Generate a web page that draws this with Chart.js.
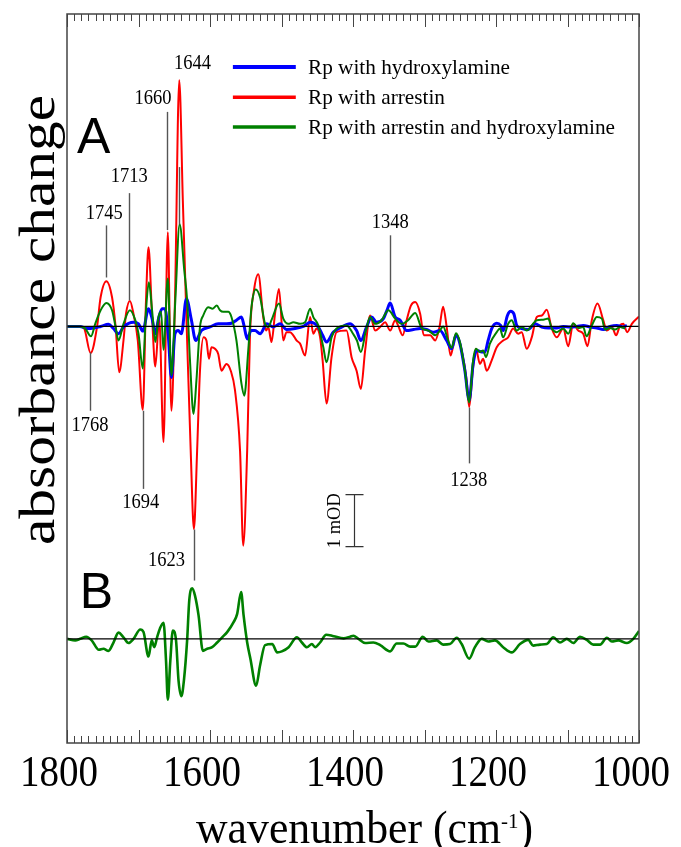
<!DOCTYPE html>
<html>
<head>
<meta charset="utf-8">
<script src="https://cdn.jsdelivr.net/npm/chart.js@4.4.1/dist/chart.umd.min.js"></script>
<style>
  html, body { margin: 0; padding: 0; background: #fff; }
  canvas { display: block; }
</style>
</head>
<body>
<canvas id="myChart" width="681" height="847"></canvas>
<script>
"use strict";

// wavenumber (cm-1), absorbance change (mOD)
let rpHydroxylamine = [
  [1800,0],[1782,0],[1772,-0.04],[1762.5,-0.03],[1753,0],[1742,0.04],[1735,-0.04],[1728,-0.14],[1721,-0.01],
  [1707,0.08],[1700,0.05],[1694,-0.09],[1686,0.34],[1681,0.15],[1676.5,-0.14],[1672,0.15],[1667,0.34],[1663,0.34],
  [1658.5,-0.14],[1654,-0.98],[1649,-0.14],[1644.5,-0.08],[1640,-0.14],[1633,0.53],[1626,0.12],[1620,-0.27],
  [1612,-0.08],[1600,-0.01],[1588.5,0.05],[1577,0.05],[1570,0.06],[1563,0.12],[1556,0.18],[1552.5,0.02],[1548,-0.24],
  [1542.5,-0.08],[1537,-0.08],[1530,-0.14],[1520.5,0.05],[1511.5,-0.01],[1502,0.05],[1493,-0.06],[1481,-0.04],
  [1469.5,0],[1460,0.08],[1448.5,-0.01],[1442.5,-0.17],[1437,-0.30],[1427.5,-0.11],[1418,-0.03],[1404,0.05],
  [1395,-0.08],[1389,-0.27],[1381,-0.01],[1374,0.18],[1367,0.08],[1357.5,0.15],[1352.5,0.31],[1348,0.45],[1341,0.18],
  [1334,0.12],[1325,-0.08],[1315.5,-0.06],[1306,-0.04],[1297,-0.06],[1287.5,-0.11],[1278.5,-0.08],[1269,-0.27],
  [1262,-0.43],[1256,-0.17],[1250.5,-0.33],[1243.5,-0.85],[1237.5,-1.42],[1232,-0.72],[1227,-0.46],[1220,-0.49],
  [1215.5,-0.49],[1211,-0.27],[1206,-0.04],[1199,0.06],[1193.5,0.02],[1190,-0.08],[1184,0.21],[1179.5,0.29],
  [1175,0.24],[1171,0.02],[1164,-0.04],[1155,-0.06],[1145.5,0.05],[1136,-0.01],[1127,-0.03],[1115,-0.03],[1106,0],
  [1096.5,-0.01],[1087,0],[1078,0.02],[1068.5,-0.01],[1059,-0.03],[1050,-0.06],[1040.5,0],[1031,0.02],[1022,-0.01],
  [1017,0.02]
];

let rpArrestin = [
  [1800,0],[1782,0],[1776,-0.04],[1767,-0.51],[1758,-0.01],[1753,0.56],[1745,0.87],[1737,0.56],[1732,-0.01],
  [1727,-0.88],[1721,-0.27],[1717.5,0.24],[1712,0.49],[1707,0.24],[1701,-0.27],[1694,-1.60],[1689.5,0.5],[1686,1.52],
  [1681,0.18],[1676.5,-0.77],[1671,0.15],[1665,-2.22],[1659,1.81],[1654,-1.62],[1649,0.5],[1643,4.73],[1638,2.42],
  [1632,-0.27],[1627,-2.38],[1622.5,-3.89],[1618,-2.38],[1614,-0.85],[1609,-0.21],[1605,-0.27],[1601.5,-0.62],
  [1598,-0.40],[1593,-0.43],[1588.5,-0.53],[1584,-0.85],[1577,-0.72],[1571,-0.85],[1565,-1.23],[1558,-2.38],
  [1553.5,-4.21],[1548,-2.38],[1544,-0.13],[1538.5,0.69],[1532.5,1.0],[1525.5,0.18],[1521.5,-0.08],[1518.5,-0.01],
  [1514,-0.30],[1509,0.25],[1503.5,0.72],[1497.5,-0.27],[1493,-0.11],[1488,-0.11],[1483.5,-0.17],[1479,-0.27],
  [1474,-0.33],[1467,-0.56],[1460,0.18],[1455.5,-0.14],[1451,-0.04],[1446,-0.21],[1442.5,-0.65],[1437,-1.48],
  [1430,-0.59],[1423,-0.11],[1409,-0.08],[1402,-0.59],[1395,-0.85],[1389,-1.20],[1383,-0.46],[1376,0.21],[1369,-0.08],
  [1362,-0.01],[1355,0.08],[1348,-0.08],[1341,0.12],[1337,0.02],[1330.5,-0.17],[1325,0.12],[1319,0.40],[1313,0.47],
  [1306,0.24],[1301,-0.17],[1292,-0.17],[1285,-0.27],[1279,-0.01],[1274,0.38],[1269,-0.01],[1263.5,-0.56],
  [1257.5,-0.21],[1255,-0.17],[1248,-0.46],[1241,-1.04],[1237.5,-1.55],[1232.5,-0.85],[1228,-0.43],[1222.5,-0.72],
  [1218,-0.62],[1213,-0.85],[1206,-0.65],[1199,-0.40],[1190,-0.27],[1183,-0.21],[1176,-0.04],[1169,-0.14],
  [1164,-0.11],[1157,-0.43],[1150,-0.21],[1143,0.18],[1136,0.21],[1129,0.32],[1122,-0.04],[1115,-0.21],[1106,-0.04],
  [1099,-0.38],[1092,0.05],[1085,-0.08],[1078,-0.14],[1072,-0.38],[1066,0.12],[1058,0.44],[1050,0.12],[1045,-0.08],
  [1038,-0.01],[1032,-0.17],[1026.5,0.02],[1022,0.05],[1016.5,-0.11],[1010,0.05],[1000,0.19]
];

let rpArrestinHydroxylamine = [
  [1800,0],[1782,0],[1774.5,-0.04],[1766.5,-0.19],[1760.5,0.05],[1753,0.31],[1745,0.45],[1737,0.31],[1732,-0.01],
  [1728,-0.27],[1721,0.05],[1712,0.31],[1704.5,0.12],[1700,-0.14],[1694,-0.81],[1689.5,0.31],[1685.5,0.85],
  [1681,0.31],[1676.5,-0.30],[1672,0.18],[1668.5,0.28],[1665,-0.45],[1659,0.92],[1654,-0.94],[1648.5,0.50],
  [1642.5,1.96],[1636,1.08],[1632,0.50],[1628,-0.65],[1623,-1.68],[1619,-1.04],[1614,-0.01],[1609.5,0.21],
  [1602.5,0.37],[1596.5,0.34],[1590.5,0.40],[1586,0.31],[1581.5,0.28],[1574.5,0.28],[1570,0.18],[1563,-0.27],
  [1556,-1.10],[1552,-1.33],[1546.5,-0.46],[1542,0.37],[1536,0.71],[1530,0.56],[1523,0.05],[1518.5,-0.01],
  [1514,0.12],[1503.5,0.44],[1497.5,0.15],[1490.5,0.05],[1483.5,0.08],[1474,0.05],[1467,0.08],[1460,0.34],
  [1455.5,0.18],[1448.5,0.02],[1441.5,-0.40],[1437,-0.69],[1430,-0.21],[1423,-0.04],[1409,0.02],[1400,-0.14],
  [1394.5,-0.27],[1389,-0.49],[1382,-0.08],[1376,0.18],[1369,0.05],[1360,0.12],[1350.5,0.31],[1341,0.15],
  [1332,0.05],[1323,0.12],[1313,0.26],[1304,-0.03],[1294.5,-0.08],[1285,-0.17],[1278.5,-0.08],[1274,0],[1267,-0.27],
  [1262,-0.41],[1256,-0.13],[1250.5,-0.30],[1243.5,-0.85],[1237.5,-1.46],[1232,-0.65],[1228,-0.43],[1222.5,-0.49],
  [1218,-0.46],[1214,-0.59],[1208.5,-0.33],[1199,-0.11],[1194.5,-0.04],[1190,-0.21],[1183,0.05],[1178,0.12],
  [1171,-0.08],[1164,-0.01],[1157,-0.08],[1150,0.02],[1143,0.12],[1134,0.13],[1127,0.15],[1122,-0.04],[1115,-0.11],
  [1106,-0.04],[1099,-0.14],[1092,0.06],[1085,-0.03],[1078,-0.01],[1073.5,-0.19],[1066,0.02],[1059,0.18],[1052,0.15],
  [1047.5,-0.06],[1040.5,-0.03],[1033.5,-0.06],[1026.5,-0.01],[1019.5,-0.04]
];

// panel B: difference spectrum, relative to its own baseline
let panelB = [
  [1800,0],[1788.5,-0.03],[1781.5,0],[1773,0.04],[1765.5,-0.03],[1755.5,-0.21],[1749,-0.19],[1742,-0.23],
  [1735,-0.07],[1728,0.12],[1721,0.03],[1714,-0.08],[1707,0],[1697.5,0.18],[1693,0.13],[1686,-0.34],[1681.5,-0.03],
  [1678,-0.16],[1674,0.03],[1670,0.2],[1665,0.31],[1661.5,-0.42],[1659,-1.17],[1655.5,-0.42],[1652,0.16],
  [1647.5,-0.03],[1644,-0.80],[1640,-1.10],[1636.5,-0.80],[1632,-0.03],[1629,0.74],[1625,0.97],[1621,0.83],
  [1616,0.45],[1610,-0.23],[1604,-0.19],[1597,-0.16],[1590,-0.07],[1583,0.03],[1576,0.13],[1567,0.32],[1562,0.48],
  [1556.5,0.90],[1553,0.45],[1548,-0.07],[1543.5,-0.38],[1535.5,-0.90],[1530,-0.51],[1523,-0.12],[1513,-0.10],
  [1506,-0.26],[1499.5,-0.24],[1490,-0.16],[1478.5,0.03],[1471.5,-0.07],[1464.5,-0.16],[1457.5,-0.10],[1453,-0.16],
  [1446,-0.07],[1437.5,0.08],[1427,0.05],[1413,0.01],[1404,0.04],[1399.5,0.06],[1392.5,0],[1383,-0.08],
  [1371.5,-0.07],[1362,-0.12],[1348,-0.24],[1339,-0.09],[1329.5,-0.09],[1320,-0.15],[1313,-0.15],[1302.5,0.04],
  [1294.5,-0.05],[1283,-0.03],[1274,-0.11],[1264.5,-0.10],[1255,0.02],[1248,-0.10],[1237.5,-0.38],[1229.5,-0.16],
  [1220,0],[1211,-0.05],[1201.5,-0.03],[1190,-0.16],[1178,-0.26],[1166.5,-0.10],[1155,-0.02],[1148,-0.13],
  [1138.5,-0.11],[1129,-0.10],[1120,0.03],[1110.5,-0.07],[1101,0],[1092,-0.08],[1082.5,0.04],[1073,-0.02],
  [1064,-0.11],[1054.5,-0.11],[1045,0.02],[1038,-0.05],[1029,-0.03],[1017,-0.08],[1008,0],[1000,0.15]
];

let tickLabels = [1800, 1600, 1400, 1200, 1000];
let offsetB = -6;

// marked bands: leader line from/to and label height in mOD
let peakMarks = [
  {wn: 1768, from: -0.50, to: -1.62, label: -1.90, dx: 0},
  {wn: 1745, from: 0.94, to: 1.94, label: 2.17, dx: -2},
  {wn: 1713, from: 0.50, to: 2.56, label: 2.87, dx: 0},
  {wn: 1694, from: -1.62, to: -3.12, label: -3.38, dx: -2},
  {wn: 1660, from: 1.85, to: 4.12, label: 4.37, dx: -14},
  {wn: 1644, from: 1.96, to: 3.06, label: 5.04, dx: 14},
  {wn: 1623, from: -3.90, to: -4.88, label: -4.50, dx: -27},
  {wn: 1348, from: 0.50, to: 1.75, label: 2.00, dx: 0},
  {wn: 1238, from: -1.56, to: -2.63, label: -2.96, dx: 0}
];

const SERIF = '"Liberation Serif", "Times New Roman", serif';
const SANS = '"Liberation Sans", Arial, sans-serif';

function pts(arr, off) {
    return arr.map(function (p) { return {x: p[0], y: p[1] + (off || 0)}; });
}

function fitText(ctx, text, x, y, size, width, align, baseline, angle) {
    ctx.save();
    ctx.font = size + "px " + SERIF;
    let w = ctx.measureText(text).width;
    ctx.translate(x, y);
    if (angle) ctx.rotate(angle);
    ctx.scale(width / w, 1);
    ctx.textAlign = align || "center";
    ctx.textBaseline = baseline || "alphabetic";
    ctx.fillText(text, 0, 0);
    ctx.restore();
}

const figurePlugin = {
    id: "figure",
    afterDatasetsDraw(chart) {
        const ctx = chart.ctx, a = chart.chartArea;
        const xs = chart.scales.x, ys = chart.scales.y;
        const X = v => xs.getPixelForValue(v), Y = v => ys.getPixelForValue(v);
        ctx.save();
        ctx.fillStyle = "#000";

        // frame and ticks (top and bottom, inward)
        ctx.strokeStyle = "#444";
        ctx.lineWidth = 1.5;
        ctx.strokeRect(a.left, a.top, a.right - a.left, a.bottom - a.top);
        ctx.lineWidth = 1;
        for (let v = 1800; v >= 1000; v -= 10) {
            let px = Math.round(X(v)) + 0.5;
            let len = v % 100 === 0 ? 13 : 7;
            ctx.beginPath();
            ctx.moveTo(px, a.top); ctx.lineTo(px, a.top + len);
            ctx.moveTo(px, a.bottom); ctx.lineTo(px, a.bottom - len);
            ctx.stroke();
        }
        tickLabels.forEach(v => fitText(ctx, String(v), X(v) - 8, a.bottom + 43, 44, 78, "center"));

        // axis titles
        ctx.save();
        ctx.font = "46px " + SERIF;
        let w1 = ctx.measureText("wavenumber (cm").width, w3 = ctx.measureText(")").width;
        ctx.font = "22px " + SERIF;
        let w2 = ctx.measureText("-1").width;
        ctx.translate(196, 843);
        ctx.scale(337 / (w1 + w2 + w3), 1);
        ctx.font = "46px " + SERIF;
        ctx.fillText("wavenumber (cm", 0, 0);
        ctx.fillText(")", w1 + w2, 0);
        ctx.font = "22px " + SERIF;
        ctx.fillText("-1", w1, -15);
        ctx.restore();
        fitText(ctx, "absorbance change", 54, 320, 50, 450, "center", "alphabetic", -Math.PI / 2);

        // panel letters
        ctx.font = "50px " + SANS;
        ctx.textAlign = "left";
        ctx.textBaseline = "alphabetic";
        ctx.fillText("A", X(1786), Y(3.33));
        ctx.fillText("B", X(1782), Y(-5.40));

        // peak marks
        ctx.strokeStyle = "#555";
        ctx.lineWidth = 1.4;
        peakMarks.forEach(m => {
            let px = Math.round(X(m.wn)) + 0.5;
            ctx.beginPath();
            ctx.moveTo(px, Y(m.from));
            ctx.lineTo(px, Y(m.to));
            ctx.stroke();
            fitText(ctx, String(m.wn), X(m.wn) + m.dx, Y(m.label), 20, 37, "center", "middle");
        });

        // 1 mOD scale bar
        ctx.strokeStyle = "#333";
        ctx.lineWidth = 1.2;
        let bx = Math.round(X(1399)) + 0.5, b0 = Y(-3.23), b1 = Y(-4.23);
        ctx.beginPath();
        ctx.moveTo(bx, b0); ctx.lineTo(bx, b1);
        ctx.moveTo(bx - 9, b0); ctx.lineTo(bx + 9, b0);
        ctx.moveTo(bx - 9, b1); ctx.lineTo(bx + 9, b1);
        ctx.stroke();
        fitText(ctx, "1 mOD", X(1425), Y(-3.73), 19, 55, "center", "middle", -Math.PI / 2);

        // legend
        const rows = [4.98, 4.40, 3.83];
        ctx.font = "22px " + SERIF;
        let sx = 202 / ctx.measureText(chart.data.datasets[0].label).width;
        for (let i = 0; i < 3; i++) {
            let ds = chart.data.datasets[i];
            ctx.strokeStyle = ds.borderColor;
            ctx.lineWidth = i === 0 ? 4 : 3.4;
            ctx.beginPath();
            ctx.moveTo(X(1568), Y(rows[i]));
            ctx.lineTo(X(1480), Y(rows[i]));
            ctx.stroke();
            ctx.save();
            ctx.translate(X(1463), Y(rows[i]) + 1);
            ctx.scale(sx, 1);
            ctx.textAlign = "left";
            ctx.textBaseline = "middle";
            ctx.fillText(ds.label, 0, 0);
            ctx.restore();
        }
        ctx.restore();
    }
};

new Chart(document.getElementById("myChart"), {
    type: "line",
    data: {
        datasets: [
            {label: "Rp with hydroxylamine", data: pts(rpHydroxylamine), borderColor: "rgb(0,0,255)", borderWidth: 3, order: 2},
            {label: "Rp with arrestin", data: pts(rpArrestin), borderColor: "rgb(255,0,0)", borderWidth: 2, order: 3},
            {label: "Rp with arrestin and hydroxylamine", data: pts(rpArrestinHydroxylamine), borderColor: "rgb(0,128,0)", borderWidth: 2, order: 1},
            {label: "B", data: pts(panelB, offsetB), borderColor: "rgb(0,128,0)", borderWidth: 2.6, order: 1},
            {label: "base A", data: pts([[1800, 0], [1000, 0]]), borderColor: "#000", borderWidth: 1.2, order: 0},
            {label: "base B", data: pts([[1800, 0], [1000, 0]], offsetB), borderColor: "#000", borderWidth: 1.2, order: 0}
        ]
    },
    options: {
        responsive: false,
        animation: false,
        parsing: true,
        layout: {padding: {left: 67, right: 42, top: 14, bottom: 104}},
        elements: {
            point: {radius: 0},
            line: {cubicInterpolationMode: "monotone", fill: false}
        },
        scales: {
            x: {type: "linear", min: 1000, max: 1800, reverse: true, display: false},
            y: {type: "linear", min: -8, max: 6, display: false}
        },
        plugins: {legend: {display: false}, tooltip: {enabled: false}}
    },
    plugins: [figurePlugin]
});
</script>
</body>
</html>
